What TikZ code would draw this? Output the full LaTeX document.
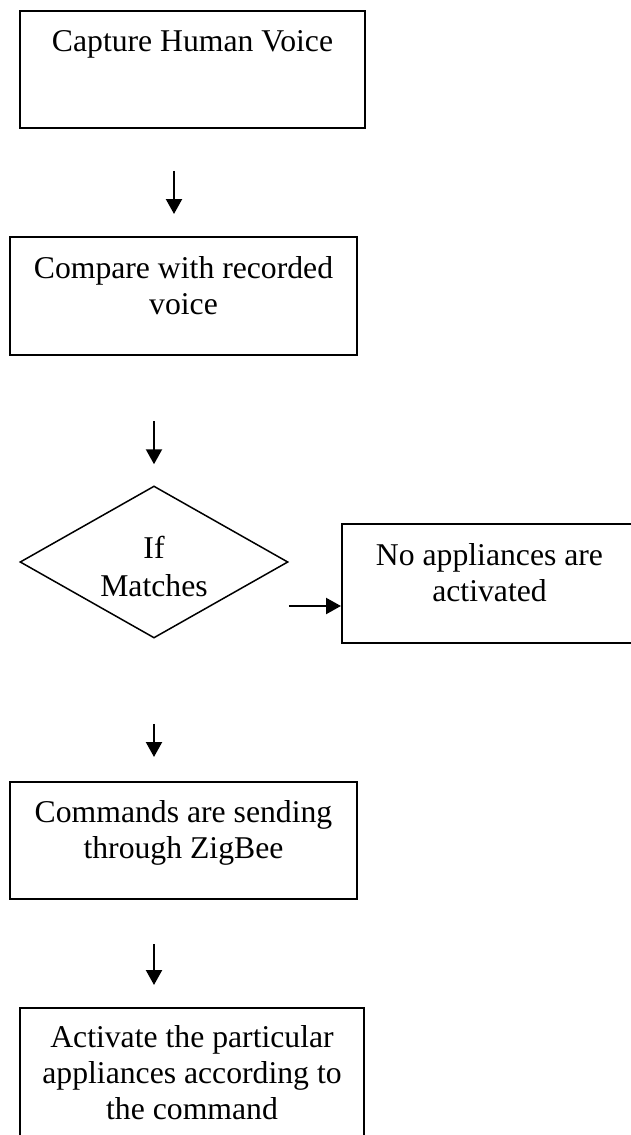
\documentclass[tikz,border=0pt]{standalone}
\usepackage{fontspec}
\setmainfont{Liberation Serif}
\usetikzlibrary{shapes.geometric, arrows.meta}
\newcommand{\hs}{\rule{0pt}{24pt}}
\newcommand{\ds}{\rule[-24pt]{0pt}{24pt}}
\begin{document}
\begin{tikzpicture}[x=1pt, y=-1pt, ->, >={Triangle[length=15pt, width=16pt]},
  box/.style = {draw, rectangle, line width=2pt, inner sep=0pt, align=center, font=\fontsize{31.7}{36}\selectfont},
  cond/.style = {draw, diamond, line width=1.5pt, inner sep=0pt, aspect=1.76, align=center, font=\fontsize{31.7}{38}\selectfont, text height=68pt, text depth=0pt},
  flow/.style = {line width=2.2pt}]
\clip (0,0) rectangle (631,1135);
\node[box, minimum width=345pt, minimum height=117pt] (cap) at (192.5,69.3) {\hs Capture Human Voice\\\ds};
\node[box, minimum width=347pt, minimum height=118pt] (cmp) at (183.5,296) {\hs Compare with recorded\\voice\ds};
\node[cond, minimum width=268pt, minimum height=152pt] (chk) at (154,562) {If\\Matches};
\node[box, minimum width=295pt, minimum height=119pt] (no) at (489.5,583.5) {\hs No appliances are\\activated\ds};
\node[box, minimum width=347pt, minimum height=117pt] (snd) at (183.5,840.5) {\hs Commands are sending\\through ZigBee\ds};
\node[box, minimum width=344pt, minimum height=150pt] (act) at (192,1083) {\hs Activate the particular\\appliances according to\\the command\ds};
\draw[flow, shorten <=42pt, shorten >=22pt] ([xshift=-18.5pt]cap.south) -- ([xshift=-9.5pt]cmp.north);
\draw[flow, shorten <=65pt, shorten >=21pt] ([xshift=-29.5pt]cmp.south) -- (chk.north);
\draw[flow] ([yshift=-44pt]chk.east) -- ([yshift=-22.5pt]no.west);
\draw[flow, shorten <=85pt, shorten >=24pt] (chk.south) -- ([xshift=-29.5pt]snd.north);
\draw[flow, shorten <=44pt, shorten >=22pt] ([xshift=-29.5pt]snd.south) -- ([xshift=-38pt]act.north);
\end{tikzpicture}
\end{document}
